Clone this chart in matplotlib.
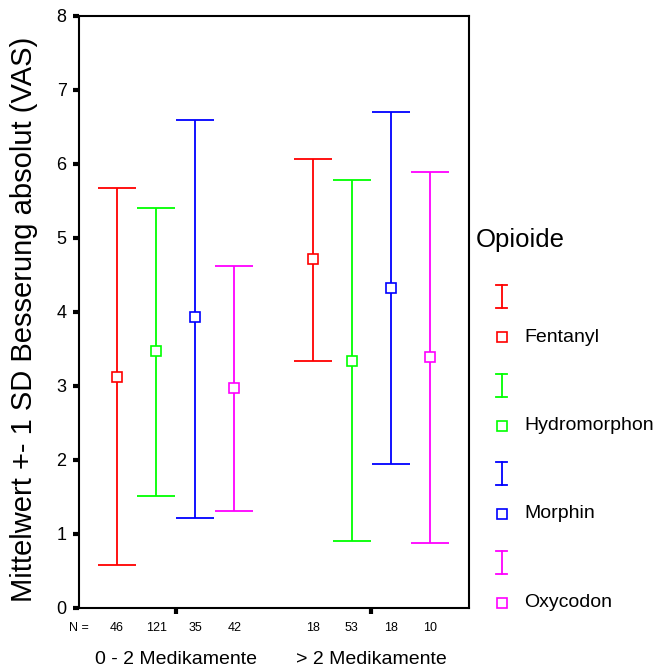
import numpy as np
import matplotlib.pyplot as plt
from matplotlib.lines import Line2D

plt.rcParams['font.family'] = ['Liberation Sans', 'DejaVu Sans']

# data
groups = ['0 - 2 Medikamente', '> 2 Medikamente']
opioids = ['Fentanyl', 'Hydromorphon', 'Morphin', 'Oxycodon']
colors = ['#ff0000', '#00ff00', '#0000ff', '#ff00ff']
means = [[3.12, 3.47, 3.93, 2.97],
         [4.72, 3.34, 4.32, 3.39]]
upper = [[5.68, 5.40, 6.60, 4.62],
         [6.07, 5.79, 6.70, 5.89]]
lower = [[0.58, 1.51, 1.21, 1.31],
         [3.34, 0.91, 1.94, 0.88]]
counts = [[46, 121, 35, 42],
          [18, 53, 18, 10]]

fig = plt.figure(figsize=(6.56, 6.68), dpi=100)
ax = fig.add_axes([79/656, 60/668, 390/656, 592/668])

step = 0.2   # spacing between opioids inside a group
cap = 0.097  # half width of caps
for g in range(len(groups)):
    for k in range(len(opioids)):
        x = g + 1 + (k - 1.5) * step
        c = colors[k]
        ax.vlines(x, lower[g][k], upper[g][k], color=c, lw=1.3)
        ax.hlines([lower[g][k], upper[g][k]], x - cap, x + cap, color=c, lw=1.3)
        ax.plot(x, means[g][k], 's', ms=7.5, mfc='white', mec=c, mew=1.2, zorder=3)
        ax.text(x, -0.034, str(counts[g][k]), transform=ax.get_xaxis_transform(),
                ha='center', va='center', fontsize=9)

ax.text(0.0, -0.034, 'N =', transform=ax.transAxes, ha='center', va='center', fontsize=9)

ax.set_xlim(0.505, 2.5)
ax.set_ylim(0, 8)
ax.set_xticks([1, 2])
ax.set_xticklabels(groups, fontsize=14)
ax.set_yticks(range(9))
ax.tick_params(axis='y', labelsize=13, length=4, width=3, pad=5)
ax.tick_params(axis='x', length=4, width=3, pad=27)
for s in ax.spines.values():
    s.set_linewidth(1.5)
ax.set_ylabel('Mittelwert +- 1 SD Besserung absolut (VAS)', fontsize=21)
ax.yaxis.set_label_coords(-0.105, 0.487)

# legend drawn in pixel coordinates on an overlay
lg = fig.add_axes([0, 0, 1, 1])
lg.set_xlim(0, 656)
lg.set_ylim(668, 0)
lg.axis('off')
lg.text(476, 240, 'Opioide', fontsize=18.5, va='center', ha='left')
for k, name in enumerate(opioids):
    y0 = 285 + k * 88.5
    c = colors[k]
    lg.add_line(Line2D([501.5, 501.5], [y0, y0 + 23], color=c, lw=1.3))
    lg.add_line(Line2D([496, 507], [y0, y0], color=c, lw=1.3))
    lg.add_line(Line2D([496, 507], [y0 + 23, y0 + 23], color=c, lw=1.3))
    lg.plot(501.5, y0 + 52, 's', ms=7.5, mfc='white', mec=c, mew=1.2)
    lg.text(524, y0 + 52, name, fontsize=14, va='center', ha='left')

fig.savefig('out.png', dpi=100)
